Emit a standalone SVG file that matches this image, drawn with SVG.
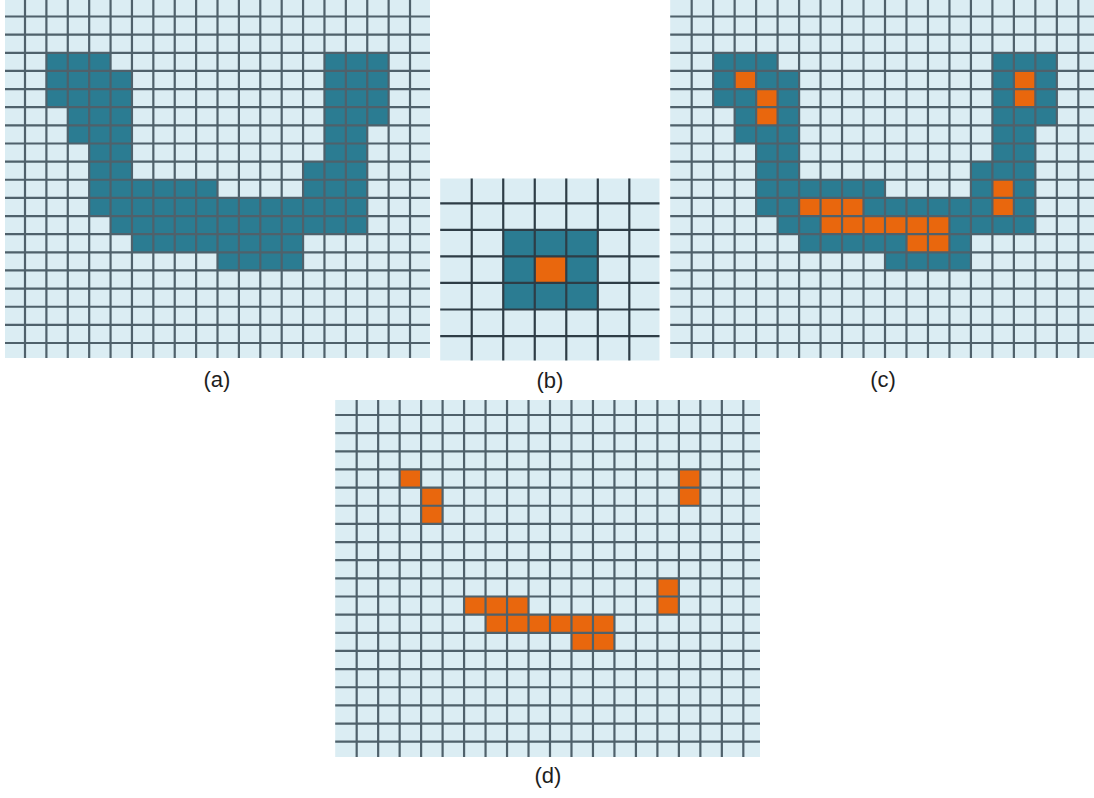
<svg xmlns="http://www.w3.org/2000/svg" xmlns:xlink="http://www.w3.org/1999/xlink" width="1094" height="798" viewBox="0 0 1094 798">
<style>
.bg{fill:#dbedf3}
.teal{fill:#2b7c92}
.orange{fill:#e9670d}
.ln{fill:none;stroke:#4f616b;stroke-width:2.2}
.lnb{fill:none;stroke:#2e3d46;stroke-width:2.2;vector-effect:non-scaling-stroke}
.lbl{font-family:"Liberation Sans",Arial,sans-serif;font-size:22px;fill:#1e1e1e;text-anchor:middle}
</style>
<defs>
<clipPath id="clipA"><rect x="5" y="0" width="425" height="358"/></clipPath>
<clipPath id="clipB"><rect x="440" y="178.5" width="219.5" height="182"/></clipPath>
<clipPath id="clipC"><rect x="670" y="0" width="424" height="358"/></clipPath>
<clipPath id="clipD"><rect x="335" y="400" width="425" height="357"/></clipPath>
<g id="tealShape" class="teal">
<rect x="2" y="3" width="3" height="1"/><rect x="15" y="3" width="3" height="1"/>
<rect x="2" y="4" width="4" height="2"/><rect x="15" y="4" width="3" height="2"/>
<rect x="3" y="6" width="3" height="1"/><rect x="15" y="6" width="3" height="1"/>
<rect x="3" y="7" width="3" height="1"/><rect x="15" y="7" width="2" height="2"/>
<rect x="4" y="8" width="2" height="2"/><rect x="14" y="9" width="3" height="2"/>
<rect x="4" y="10" width="6" height="1"/>
<rect x="4" y="11" width="13" height="1"/>
<rect x="5" y="12" width="12" height="1"/>
<rect x="6" y="13" width="8" height="1"/>
<rect x="10" y="14" width="4" height="1"/>
</g>
<g id="orangeShape" class="orange">
<rect x="3" y="4" width="1" height="1"/>
<rect x="4" y="5" width="1" height="2"/>
<rect x="16" y="4" width="1" height="2"/>
<rect x="15" y="10" width="1" height="2"/>
<rect x="6" y="11" width="3" height="1"/>
<rect x="7" y="12" width="6" height="1"/>
<rect x="11" y="13" width="2" height="1"/>
</g>
<path id="lines20" vector-effect="non-scaling-stroke" fill="none" d="M1 0V20M2 0V20M3 0V20M4 0V20M5 0V20M6 0V20M7 0V20M8 0V20M9 0V20M10 0V20M11 0V20M12 0V20M13 0V20M14 0V20M15 0V20M16 0V20M17 0V20M18 0V20M19 0V20M0 1H20M0 2H20M0 3H20M0 4H20M0 5H20M0 6H20M0 7H20M0 8H20M0 9H20M0 10H20M0 11H20M0 12H20M0 13H20M0 14H20M0 15H20M0 16H20M0 17H20M0 18H20M0 19H20"/>
</defs>

<g id="gridA" clip-path="url(#clipA)">
<g transform="translate(3.61,-1.64) scale(21.39,18.14)">
<rect class="bg" x="0" y="0" width="20" height="20"/>
<use xlink:href="#tealShape"/>
<use xlink:href="#lines20" class="ln"/>
</g>
</g>

<g id="gridB" clip-path="url(#clipB)">
<g transform="translate(440.2,176.8) scale(31.52,26.54)">
<rect class="bg" x="0" y="0" width="7" height="7"/>
<rect class="teal" x="2" y="2" width="3" height="3"/>
<rect class="orange" x="3" y="3" width="1" height="1"/>
<path class="lnb" d="M1 0V7M2 0V7M3 0V7M4 0V7M5 0V7M6 0V7M0 1H7M0 2H7M0 3H7M0 4H7M0 5H7M0 6H7"/>
</g>
</g>

<g id="gridC" clip-path="url(#clipC)">
<g transform="translate(670.2,-1.64) scale(21.48,18.14)">
<rect class="bg" x="0" y="0" width="20" height="20"/>
<use xlink:href="#tealShape"/>
<use xlink:href="#orangeShape"/>
<use xlink:href="#lines20" class="ln"/>
</g>
</g>

<g id="gridD" clip-path="url(#clipD)">
<g transform="translate(335.2,396.85) scale(21.48,18.15)">
<rect class="bg" x="0" y="0" width="20" height="20"/>
<use xlink:href="#orangeShape"/>
<use xlink:href="#lines20" class="ln"/>
</g>
</g>

<g id="connectors"/>

<g id="labels">
<text class="lbl" x="217" y="387">(a)</text>
<text class="lbl" x="550" y="388">(b)</text>
<text class="lbl" x="883" y="387">(c)</text>
<text class="lbl" x="548" y="783">(d)</text>
</g>
</svg>
